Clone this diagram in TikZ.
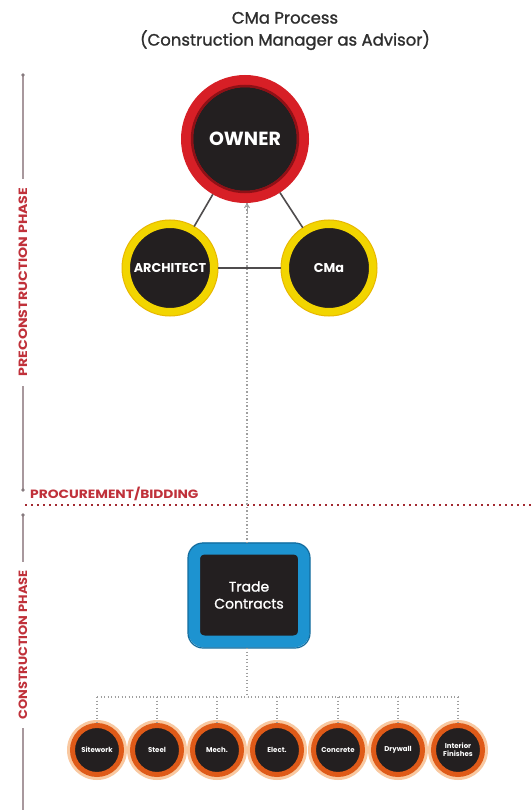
\documentclass[tikz,border=0pt]{standalone}
\usepackage{fontspec}
\setmainfont{Poppins}
\newfontfamily\semibf[FakeBold=1.2]{Poppins}
\usetikzlibrary{arrows.meta}
\definecolor{ownerred}{HTML}{D71F26}
\definecolor{ownerdark}{HTML}{8F1016}
\definecolor{ringyellow}{HTML}{F2D500}
\definecolor{ringyellowedge}{HTML}{E8B800}
\definecolor{nblack}{HTML}{231F20}
\definecolor{tradeblue}{HTML}{1D93D0}
\definecolor{tradeblueedge}{HTML}{136C9E}
\definecolor{ringorange}{HTML}{DF5A18}
\definecolor{glow}{HTML}{F9C8A0}
\definecolor{phasered}{HTML}{C0313A}
\definecolor{axisgray}{HTML}{A8989D}
\definecolor{titlegray}{HTML}{2E2E2E}
\begin{document}
\begin{tikzpicture}[x=1pt,y=-1pt,
  ownerc/.style={circle, fill=nblack, draw=ownerred, line width=12pt, minimum size=116pt, inner sep=0pt,
    text=white, font=\fontsize{19}{22}\selectfont\bfseries},
  partyc/.style={circle, fill=nblack, draw=ringyellow, line width=8pt, minimum size=88pt, inner sep=0pt,
    text=white, font=\fontsize{12.8}{15}\selectfont\bfseries},
  tradebox/.style={rectangle, rounded corners=10pt, fill=nblack, draw=tradeblue, line width=12pt,
    minimum width=110pt, minimum height=93pt, inner sep=0pt, align=center, text=white,
    font=\fontsize{14}{17}\selectfont\semibf},
  tradec/.style={circle, fill=nblack, draw=ringorange, line width=5pt, minimum size=49pt, inner sep=0pt,
    align=center, text=white, font=\fontsize{7}{8.2}\selectfont\bfseries},
  solidlink/.style={draw=nblack!80, line width=1.6pt},
  dotlink/.style={draw=gray!75, line width=1.3pt, dash pattern=on 1.3pt off 2.2pt},
  phasetext/.style={text=phasered, font=\fontsize{12}{14}\selectfont\bfseries, inner sep=0pt},
  axis/.style={draw=axisgray, line width=1.3pt},
  axisdot/.style={fill=axisgray!80!black},
]
\useasboundingbox (0,0) rectangle (531,810);
\fill[white] (0,0) rectangle (531,810);

% title
\node[text=titlegray, font=\fontsize{16.5}{22}\selectfont\semibf, align=center] (title) at (285,31)
  {CMa Process\\(Construction Manager as Advisor)};

% left phase axis
\coordinate (a1) at (23,75);
\coordinate (a2) at (23,179);
\coordinate (a3) at (23,386);
\coordinate (a4) at (23,490);
\coordinate (a5) at (23,515);
\coordinate (a6) at (23,562);
\coordinate (a7) at (23,728);
\coordinate (a8) at (23,810);
\draw[axis] (a1) -- (a2);
\draw[axis] (a3) -- (a4);
\draw[axis] (a5) -- (a6);
\draw[axis] (a7) -- (a8);
\fill[axisdot] (a1) circle (1.8);
\fill[axisdot] (a4) circle (1.8);
\fill[axisdot] (a5) circle (1.8);
\node[phasetext, rotate=90] (pre) at (23,282) {\scalebox{1.18}[1]{PRECONSTRUCTION PHASE}};
\node[phasetext, rotate=90] (con) at (23,645) {\scalebox{1.08}[1]{CONSTRUCTION PHASE}};

% procurement line
\coordinate (p1) at (25,505);
\coordinate (p2) at (531,505);
\draw[draw=phasered!85!black, line width=2pt, dash pattern=on 2pt off 4pt] (p1) -- (p2);
\node[phasetext, anchor=south west] (proc) at (30,501) {\scalebox{1.15}[1]{PROCUREMENT/BIDDING}};

% main nodes
\node[ownerc] (owner) at (245,139) {OWNER};
\draw[ownerdark, line width=2.5pt] (owner.center) circle (53);
\node[partyc] (arch) at (170,268) {ARCHITECT};
\node[partyc] (cma) at (329,268) {CMa};
\draw[ringyellowedge, line width=1pt] (arch.center) circle (48);
\draw[ringyellowedge, line width=1pt] (cma.center) circle (48);

\node[tradebox] (trade) at (249,595) {Trade\\Contracts};
\draw[tradeblueedge, line width=1.2pt, rounded corners=15pt] (188,543) rectangle (310,648);

% solid links
\draw[solidlink] (owner) -- (arch);
\draw[solidlink] (owner) -- (cma);

% dotted link trade -> owner
\coordinate (ownerin) at (247,203);
\coordinate (tradetop) at (247,543);
\coordinate (tradebot) at (247,648);
\draw[dotlink] (tradetop) -- (ownerin);
\draw[gray!75, line width=1pt, -{Straight Barb[length=4pt,width=5pt]}] (247,214) -- (ownerin);
\draw[solidlink] (arch) -- (cma);

% bus
\coordinate (bus) at (247,697);
\draw[dotlink] (tradebot) -- (bus);
\coordinate (bl) at (97,697);
\coordinate (br) at (458,697);
\draw[dotlink] (bl) -- (br);

% trade circles
\foreach \n/\x/\t in {t1/97/Sitework, t2/157/Steel, t3/217/Mech., t4/277/Elect.,
                      t5/338/Concrete, t6/398/Drywall, t7/458/{Interior\\Finishes}} {
  \fill[glow] (\x,750) circle (30);
  \node[tradec] (\n) at (\x,750) {\t};
  \coordinate (\n top) at (\x,697);
  \draw[dotlink] (\n top) -- (\n);
}
\end{tikzpicture}
\end{document}
